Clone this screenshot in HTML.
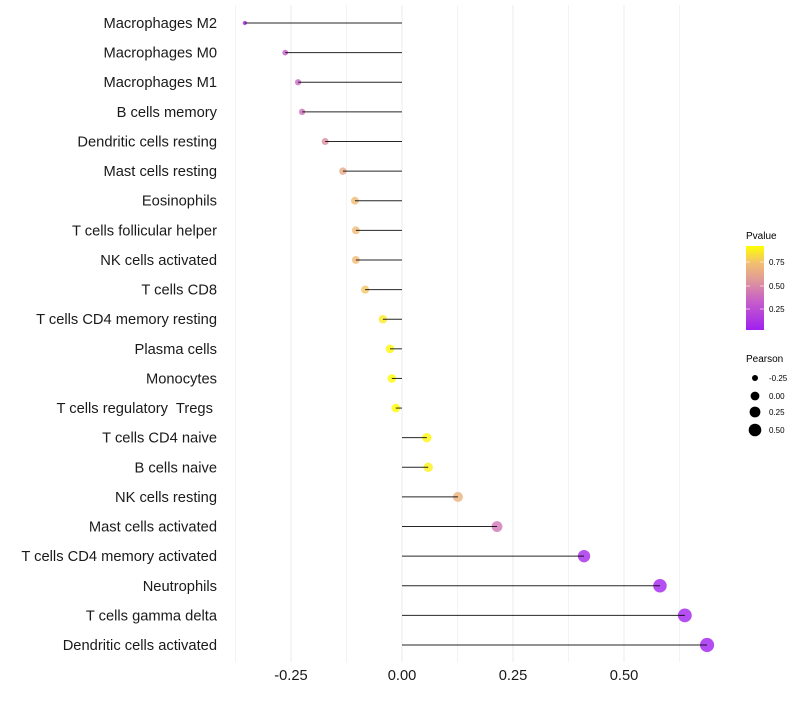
<!DOCTYPE html>
<html><head><meta charset="utf-8"><style>
body{margin:0;background:#fff;font-family:"Liberation Sans",sans-serif}
</style></head><body>
<svg id="c" width="800" height="700" xmlns="http://www.w3.org/2000/svg" font-family="Liberation Sans, sans-serif">
<defs><linearGradient id="pg" x1="0" y1="1" x2="0" y2="0">
<stop offset="0" stop-color="#a020f0"/><stop offset="0.35" stop-color="#c860c8"/><stop offset="0.6" stop-color="#e09a98"/><stop offset="0.8" stop-color="#f2c070"/><stop offset="1" stop-color="#ffff00"/></linearGradient></defs>
<g id="grid"></g>
<g id="pts"></g>
<g id="marks"></g>
<g id="ylab"></g>
<g id="xlab"></g>
<g>
<text x="746" y="239" font-size="10">Pvalue</text>
<rect x="746" y="246" width="18" height="84" fill="url(#pg)"/>
<line x1="746" y1="262" x2="750" y2="262" stroke="#fff" opacity="0.6"/><line x1="760" y1="262" x2="764" y2="262" stroke="#fff" opacity="0.6"/>
<line x1="746" y1="286" x2="750" y2="286" stroke="#fff" opacity="0.6"/><line x1="760" y1="286" x2="764" y2="286" stroke="#fff" opacity="0.6"/>
<line x1="746" y1="309" x2="750" y2="309" stroke="#fff" opacity="0.6"/><line x1="760" y1="309" x2="764" y2="309" stroke="#fff" opacity="0.6"/>
<text x="769" y="265" font-size="8">0.75</text><text x="769" y="289" font-size="8">0.50</text><text x="769" y="312" font-size="8">0.25</text>
</g>
<g>
<text x="746" y="362" font-size="10">Pearson</text>
<circle cx="755" cy="378" r="3"/><text x="769" y="381" font-size="8">-0.25</text>
<circle cx="755" cy="396" r="4.4"/><text x="769" y="399" font-size="8">0.00</text>
<circle cx="755" cy="412" r="5.4"/><text x="769" y="415" font-size="8">0.25</text>
<circle cx="755" cy="430" r="6.3"/><text x="769" y="433" font-size="8">0.50</text>
</g>
</svg>
<script>
const categories=["Macrophages M2","Macrophages M0","Macrophages M1","B cells memory","Dendritic cells resting","Mast cells resting","Eosinophils","T cells follicular helper","NK cells activated","T cells CD8","T cells CD4 memory resting","Plasma cells","Monocytes","T cells regulatory  Tregs ","T cells CD4 naive","B cells naive","NK cells resting","Mast cells activated","T cells CD4 memory activated","Neutrophils","T cells gamma delta","Dendritic cells activated"];
const pearson=[-0.354,-0.263,-0.234,-0.225,-0.173,-0.133,-0.106,-0.104,-0.104,-0.083,-0.043,-0.027,-0.023,-0.014,0.056,0.059,0.126,0.214,0.41,0.581,0.637,0.687];
const pvalue=[0.05,0.33,0.37,0.4,0.52,0.64,0.72,0.72,0.72,0.76,0.86,0.9,0.91,0.93,0.9,0.88,0.68,0.42,0.07,0.04,0.04,0.03];
const xticks=[-0.25,0,0.25,0.5];
const xtickLabels=["-0.25","0.00","0.25","0.50"];
const NS="http://www.w3.org/2000/svg";
const x=v=>402+v*444;
const y=i=>23+i*29.62;
const stops=[[0,[160,32,240]],[0.35,[200,96,200]],[0.6,[224,154,152]],[0.8,[242,192,112]],[1,[255,255,0]]];
function col(p){let t=Math.max(0,Math.min(1,(p-0.027)/(0.92-0.027)));for(let k=1;k<stops.length;k++){if(t<=stops[k][0]){const a=stops[k-1],b=stops[k],f=(t-a[0])/(b[0]-a[0]);return "rgb("+a[1].map((c,j)=>Math.round(c+(b[1][j]-c)*f)).join(",")+")";}}return "rgb(255,255,0)";}
function mk(t,a,p){const e=document.createElementNS(NS,t);for(const k in a)e.setAttribute(k,a[k]);p.appendChild(e);return e;}
const g=document.getElementById('grid'),m=document.getElementById('marks'),pts=document.getElementById('pts'),yl=document.getElementById('ylab'),xl=document.getElementById('xlab');
for(let v=-0.375;v<=0.63;v+=0.125){const l=mk('line',{x1:x(v),x2:x(v),y1:5,y2:662,stroke:'#ebebeb','stroke-width':Math.abs(v/0.25-Math.round(v/0.25))<1e-6?1:0.6},g);

}
categories.forEach((c,i)=>{const cy=y(i);
const r=Math.sqrt(Math.max(2,20+44*pearson[i]));
const p=mk('circle',{cx:x(pearson[i]),cy:cy,r:r,fill:col(pvalue[i]),'fill-opacity':0.8},pts);


const s=mk('line',{x1:x(0),x2:x(pearson[i]),y1:cy,y2:cy,stroke:'#000','stroke-width':1,'stroke-opacity':0.85},m);


const t=mk('text',{x:217,y:cy+5,'text-anchor':'end','font-size':14.7,fill:'#1a1a1a'},yl);t.textContent=c;
t.setAttribute('xml:space','preserve');t.style.whiteSpace='pre';

});
xticks.forEach((v,i)=>{const t=mk('text',{x:x(v),y:680,'text-anchor':'middle','font-size':14.7,fill:'#1a1a1a'},xl);t.textContent=xtickLabels[i];

});
</script>
</body></html>
